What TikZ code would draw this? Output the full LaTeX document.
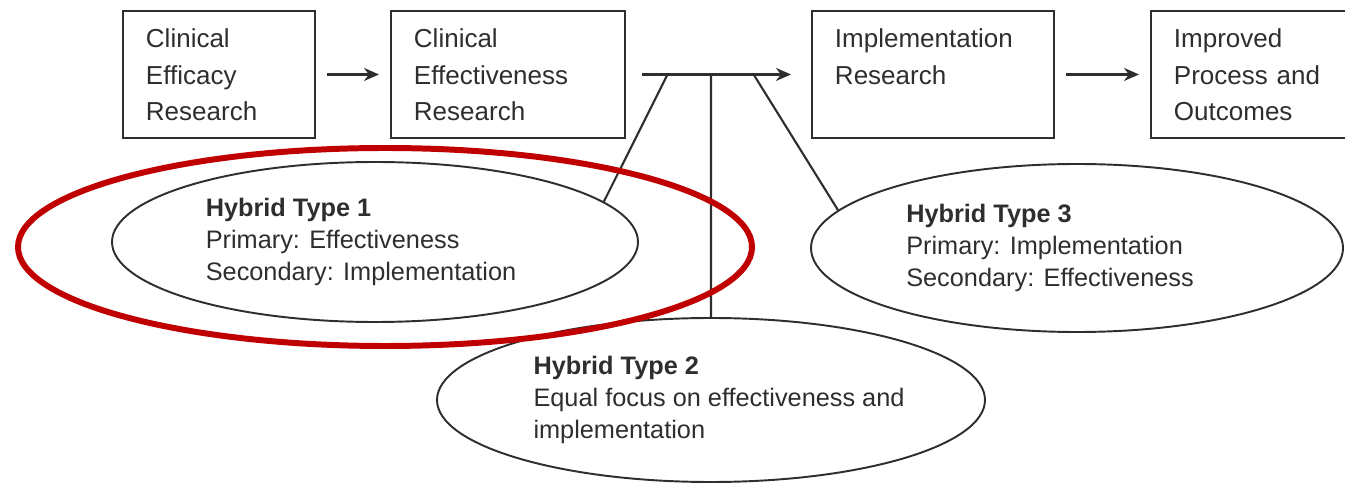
\documentclass[tikz,border=0pt]{standalone}
\usepackage{fontspec}
\setmainfont{Liberation Sans}
\usetikzlibrary{shapes.geometric, arrows.meta}
\definecolor{ink}{gray}{0.18}
\definecolor{ringred}{RGB}{192,0,0}
\tikzset{
    >={Stealth[length=0.3cm, width=0.26cm]}, % solid arrow heads
    stage/.style={draw=ink, line width=1.1pt, anchor=north west, align=left, text=ink,
        inner xsep=0.46cm, inner ysep=0.1cm, text height=0.64cm, text depth=1.7cm,
        text width=#1, font=\fontsize{14.8}{20.7}\selectfont}, % research stage boxes, text at the top
    hybrid/.style={draw=ink, line width=1.1pt, ellipse, inner sep=0pt}, % the three hybrid designs
    hybridtext/.style={align=left, text=ink, inner sep=0pt,
        font=\fontsize{14.4}{18.2}\selectfont}, % what each design says
    link/.style={draw=ink, line width=1.2pt}, % plain connecting lines
    flow/.style={link, ->, shorten <=0.22cm, shorten >=0.22cm}, % arrows between the boxes
    highlight/.style={draw=ringred, line width=3.4pt, ellipse}, % red ring around type 1
}

\begin{document}
\begin{tikzpicture}
                            \useasboundingbox (0,0) rectangle (26.9,-9.68);
                            \clip (0,0) rectangle (26.9,-9.68);
                            \node[stage=2.92cm] (b1) at (2.44,-0.2) {Clinical\\Efficacy\\Research};
                            \node[stage=3.76cm] (b2) at (7.8,-0.2) {Clinical\\Effectiveness\\Research};
                            \node[stage=3.92cm] (b3) at (16.22,-0.2) {Implementation\\Research};
                            \node[stage=3.88cm] (b4) at (23.0,-0.2) {Improved\\Process and\\Outcomes};
                            \node[hybrid, minimum width=10.52cm, minimum height=3.2cm] (h1) at (7.5,-4.84) {};
                            \node[hybrid, minimum width=10.96cm, minimum height=3.28cm] (h2) at (14.22,-8.0) {};
                            \node[hybrid, minimum width=10.64cm, minimum height=3.36cm] (h3) at (21.54,-4.96) {};
                            \node[hybridtext] (t1) at ([xshift=-0.28cm]h1)
                                {\textbf{Hybrid Type 1}\\Primary: Effectiveness\\Secondary: Implementation};
                            \node[hybridtext] (t2) at ([xshift=0.16cm]h2)
                                {\textbf{Hybrid Type 2}\\Equal focus on effectiveness and\\implementation};
                            \node[hybridtext] (t3) at ([xshift=-0.54cm]h3)
                                {\textbf{Hybrid Type 3}\\Primary: Implementation\\Secondary: Effectiveness};
                            \coordinate (j1) at (13.36,-1.47);
                            \coordinate (j2) at (h2.north |- b2.east);
                            \coordinate (j3) at (15.06,-1.47);
                            \draw[flow] (b1) -- (b2);
                            \draw[link, ->, shorten <=0.32cm, shorten >=0.4cm] (b2) -- (b3);
                            \draw[flow] (b3) -- (b4);
                            \draw[link] (j1) -- (h1.10)
                            (j2) -- (h2.north)
                            (j3) -- (h3.171);
                            \node[highlight, minimum width=14.68cm, minimum height=3.96cm] (ring) at (7.7,-4.94) {};
                        \end{tikzpicture}
\end{document}
